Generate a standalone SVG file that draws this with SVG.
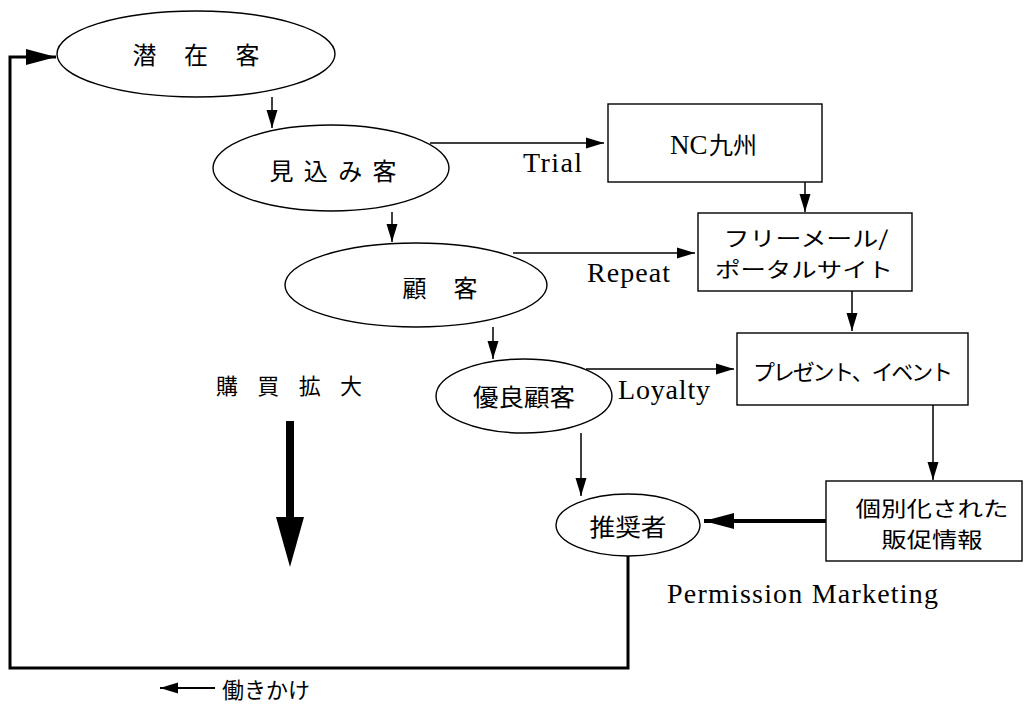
<svg xmlns="http://www.w3.org/2000/svg" width="1031" height="711" viewBox="0 0 1031 711">
<defs>
<style>
.bg{fill:#fff}
.node{fill:#fff;stroke:#000;stroke-width:1.4}
.jp{font-family:"Noto Sans CJK JP","Noto Sans",sans-serif;font-size:24px;fill:#000}
.jp2{font-family:"Noto Sans CJK JP","Noto Sans",sans-serif;font-size:21px;fill:#000}
.en{font-family:"Liberation Serif",serif;font-size:28px;fill:#000}
.c{stroke:#000;stroke-width:1.5;fill:none}
.thick{stroke:#000;stroke-width:3;fill:none}
</style>
<marker id="ah" markerUnits="userSpaceOnUse" markerWidth="20" markerHeight="12" refX="18" refY="6" orient="auto">
<path d="M0,0.5 L18,6 L0,11.5 Z" fill="#000"/>
</marker>
<marker id="ahb" markerUnits="userSpaceOnUse" markerWidth="32" markerHeight="18" refX="30" refY="9" orient="auto">
<path d="M0,1 L30,9 L0,17 Z" fill="#000"/>
</marker>
</defs>
<rect class="bg" x="0" y="0" width="1031" height="711"/>

<g id="connectors">
<line class="c" x1="272" y1="97" x2="272" y2="128" marker-end="url(#ah)"/>
<line class="c" x1="392" y1="212" x2="392" y2="242" marker-end="url(#ah)"/>
<line class="c" x1="493" y1="327" x2="493" y2="359" marker-end="url(#ah)"/>
<line class="c" x1="581" y1="433" x2="581" y2="496" marker-end="url(#ah)"/>
<line class="c" x1="430" y1="143" x2="604" y2="143" marker-end="url(#ah)"/>
<line class="c" x1="513" y1="253" x2="695" y2="253" marker-end="url(#ah)"/>
<line class="c" x1="586" y1="369" x2="734" y2="369" marker-end="url(#ah)"/>
<line class="c" x1="805" y1="182" x2="805" y2="212" marker-end="url(#ah)"/>
<line class="c" x1="852" y1="291" x2="852" y2="331" marker-end="url(#ah)"/>
<line class="c" x1="933" y1="405" x2="933" y2="480" marker-end="url(#ah)"/>
<line x1="826" y1="521" x2="704" y2="521" stroke="#000" stroke-width="4" marker-end="url(#ahb)"/>
<path class="thick" d="M628,556 L628,668 L10,668 L10,57 L56,57" marker-end="url(#ahb)"/>
<line x1="215" y1="688" x2="160" y2="688" stroke="#000" stroke-width="1.8" marker-end="url(#ah)"/>
</g>

<g id="n-senzai">
<ellipse class="node" cx="196" cy="54" rx="139" ry="43"/>
<text class="jp" x="196" y="64" text-anchor="middle" textLength="127" lengthAdjust="spacing">潜 在 客</text>
</g>
<g id="n-mikomi">
<ellipse class="node" cx="331" cy="168" rx="118" ry="43"/>
<text class="jp" x="333" y="180" text-anchor="middle" textLength="127" lengthAdjust="spacing">見 込 み 客</text>
</g>
<g id="n-kokyaku">
<ellipse class="node" cx="416" cy="285" rx="131" ry="42"/>
<text class="jp" x="440" y="297" text-anchor="middle" textLength="75" lengthAdjust="spacing">顧 客</text>
</g>
<g id="n-yuryo">
<ellipse class="node" cx="524" cy="396" rx="88" ry="37"/>
<text class="jp" x="524" y="406" text-anchor="middle" textLength="102" lengthAdjust="spacingAndGlyphs">優良顧客</text>
</g>
<g id="n-suisho">
<ellipse class="node" cx="628" cy="525" rx="72" ry="31"/>
<text class="jp" x="628" y="536" text-anchor="middle" textLength="77" lengthAdjust="spacingAndGlyphs">推奨者</text>
</g>
<g id="n-nc">
<rect class="node" x="608" y="104" width="214" height="78"/>
<text class="en" x="670" y="154" style="font-size:27px">NC</text>
<text class="jp" x="709" y="154">九州</text>
</g>
<g id="n-free">
<rect class="node" x="698" y="213" width="214" height="78"/>
<text class="jp2" x="806" y="246" text-anchor="middle" textLength="165" lengthAdjust="spacingAndGlyphs">フリーメール/</text>
<text class="jp2" x="804" y="277" text-anchor="middle" textLength="178" lengthAdjust="spacingAndGlyphs">ポータルサイト</text>
</g>
<g id="n-present">
<rect class="node" x="737" y="333" width="231" height="72"/>
<text class="jp" x="853" y="380" text-anchor="middle" textLength="200" lengthAdjust="spacing" style="font-size:22px">プレゼント、イベント</text>
</g>
<g id="n-kobetsu">
<rect class="node" x="826" y="481" width="196" height="80"/>
<text class="jp2" x="932" y="516" text-anchor="middle" textLength="153" lengthAdjust="spacingAndGlyphs">個別化された</text>
<text class="jp2" x="932" y="547" text-anchor="middle" textLength="101" lengthAdjust="spacingAndGlyphs">販促情報</text>
</g>

<g id="labels">
<text class="en" x="523" y="172" textLength="59" lengthAdjust="spacing">Trial</text>
<text class="en" x="587" y="282" textLength="83" lengthAdjust="spacing">Repeat</text>
<text class="en" x="618" y="399" textLength="92" lengthAdjust="spacing">Loyalty</text>
<text class="en" x="667" y="603" textLength="271" lengthAdjust="spacing">Permission Marketing</text>
<text class="jp" x="289" y="394" text-anchor="middle" textLength="146" lengthAdjust="spacing" style="font-size:22px">購 買 拡 大</text>
<text class="jp" x="222" y="698" textLength="88" lengthAdjust="spacing" style="font-size:22px">働きかけ</text>
</g>

<g id="big-arrow">
<rect x="286" y="421" width="8" height="97" fill="#000"/>
<path d="M276,517 L304,517 L290,567 Z" fill="#000"/>
</g>
</svg>
